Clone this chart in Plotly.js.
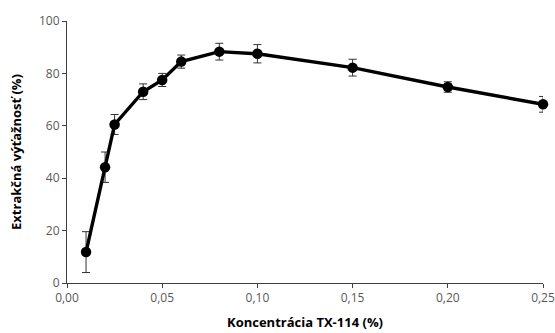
<!DOCTYPE html>
<html>
<head>
<meta charset="utf-8">
<script src="https://cdn.plot.ly/plotly-3.0.1.min.js"></script>
<style>html,body{margin:0;padding:0;background:#fff;}#chart{width:555px;height:333px;}</style>
</head>
<body>
<div id="chart"></div>
<script>
const concentration = [0.01, 0.02, 0.025, 0.04, 0.05, 0.06, 0.08, 0.10, 0.15, 0.20, 0.25];
const recovery = [11.8, 44.2, 60.5, 73, 77.5, 84.5, 88.3, 87.5, 82.2, 74.8, 68.2];
const errorSD = [7.8, 5.8, 3.8, 3, 2.5, 2.5, 3.2, 3.5, 3.2, 2, 3];
const xTitle = 'Koncentrácia TX-114 (%)';
const yTitle = 'Extrakčná výťažnosť (%)';

const trace = {
  x: concentration,
  y: recovery,
  type: 'scatter',
  mode: 'lines+markers',
  line: {color: '#000', width: 3.4},
  marker: {color: '#000', size: 10.5},
  error_y: {type: 'data', array: errorSD, visible: true, color: '#333', thickness: 1, width: 4},
  showlegend: false,
  cliponaxis: false
};

const fontFam = 'Open Sans, Liberation Sans, sans-serif';
const layout = {
  width: 555, height: 333,
  margin: {l: 67, r: 12, t: 21, b: 50},
  paper_bgcolor: '#fff', plot_bgcolor: '#fff',
  separators: ',.',
  font: {family: fontFam, size: 12, color: '#595959'},
  xaxis: {
    range: [0, 0.25], dtick: 0.05, tick0: 0, tickformat: '.2f',
    showgrid: false, zeroline: false, showline: true, linecolor: '#404040', linewidth: 1,
    ticks: 'outside', ticklen: 4, tickcolor: '#404040',
    tickfont: {family: fontFam, size: 12, color: '#595959'},
    title: {text: xTitle, font: {family: fontFam, size: 13, color: '#000', weight: 'bold'}, standoff: 12}
  },
  yaxis: {
    range: [0, 100], dtick: 20,
    showgrid: false, zeroline: false, showline: true, linecolor: '#404040', linewidth: 1,
    ticks: 'outside', ticklen: 4, tickcolor: '#404040',
    tickfont: {family: fontFam, size: 12, color: '#595959'},
    title: {text: yTitle, font: {family: fontFam, size: 13, color: '#000', weight: 'bold'}, standoff: 14}
  }
};

Plotly.newPlot('chart', [trace], layout, {displayModeBar: false, staticPlot: true});
</script>
</body>
</html>
